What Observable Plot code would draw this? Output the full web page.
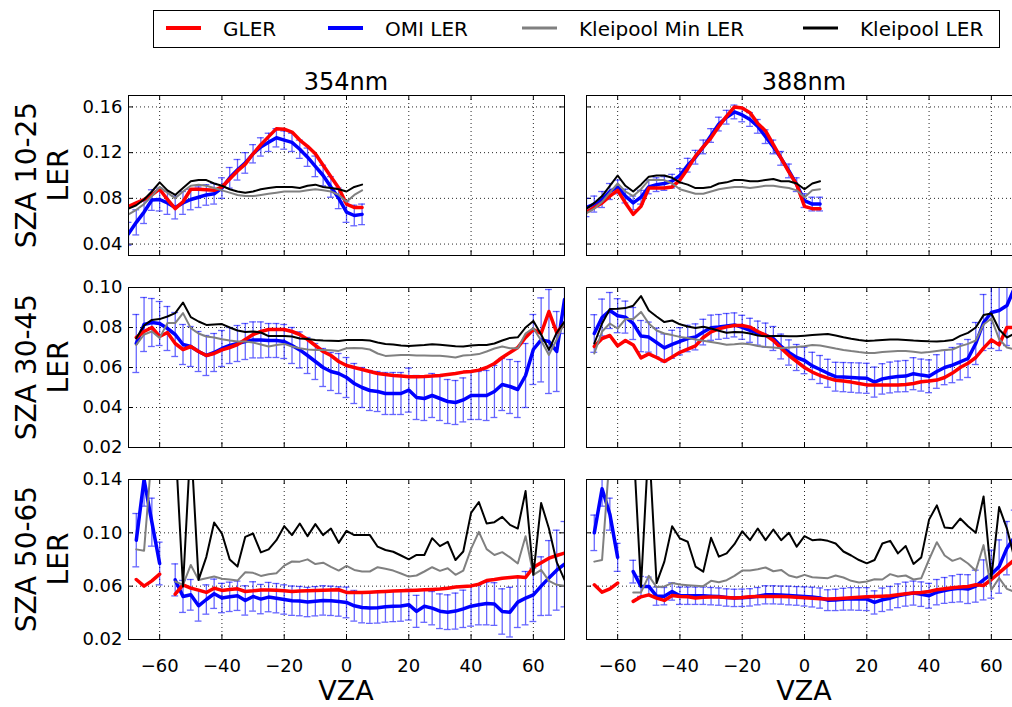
<!DOCTYPE html>
<html><head><meta charset="utf-8">
<script src="https://cdn.jsdelivr.net/npm/d3@7"></script>
<script src="https://cdn.jsdelivr.net/npm/@observablehq/plot@0.6"></script>
<style>
body{margin:0;background:#fff;font-family:"DejaVu Sans",sans-serif;}
#fig{position:relative;width:1012px;height:707px;overflow:hidden;background:#fff;}
#fig svg{position:absolute;}
</style></head><body><div id="fig"></div>
<script>
// ---------- axes / labels ----------
const vza = [-70,-67.5,-65,-62.5,-60,-57.5,-55,-52.5,-50,-47.5,-45,-42.5,-40,-37.5,-35,-32.5,-30,-27.5,-25,-22.5,-20,-17.5,-15,-12.5,-10,-7.5,-5,-2.5,0,2.5,5,7.5,10,12.5,15,17.5,20,22.5,25,27.5,30,32.5,35,37.5,40,42.5,45,47.5,50,52.5,55,57.5,60,62.5,65,67.5,70];
const xTicks = [-60,-40,-20,0,20,40,60];
const colTitles = ["354nm","388nm"];
const rowLabels = ["SZA 10-25","SZA 30-45","SZA 50-65"];
const yLabel = "LER";
const xLabel = "VZA";
const yDomains = [[0.03,0.17],[0.02,0.10],[0.02,0.14]];
const yTicks = [[0.04,0.08,0.12,0.16],[0.02,0.04,0.06,0.08,0.10],[0.02,0.06,0.10,0.14]];
const seriesNames = ["GLER","OMI LER","Kleipool Min LER","Kleipool LER"];
const seriesColors = ["#ff0000","#0000ff","#808080","#000000"];

// ---------- SZA 10-25, 354nm ----------
const GLER_354_SZA10 = [0.073,0.076,0.079,0.083,0.088,0.079,0.071,0.077,0.088,0.088,0.0875,0.087,0.090,0.097,0.104,0.110,0.119,0.127,0.134,0.141,0.1405,0.138,0.131,0.1255,0.119,0.109,0.099,0.089,0.075,0.072,0.072];
const OMI_354_SZA10 = [0.049,0.059,0.068,0.0785,0.079,0.076,0.072,0.076,0.079,0.081,0.083,0.084,0.089,0.098,0.105,0.111,0.119,0.125,0.129,0.133,0.131,0.129,0.123,0.116,0.108,0.100,0.090,0.080,0.068,0.065,0.066];
const OMIERR_354_SZA10 = [0.010,0.011,0.010,0.009,0.010,0.010,0.010,0.010,0.009,0.009,0.009,0.009,0.009,0.009,0.009,0.009,0.008,0.008,0.008,0.008,0.008,0.008,0.008,0.008,0.009,0.009,0.009,0.009,0.009,0.009,0.009];
const KMIN_354_SZA10 = [0.066,0.070,0.075,0.082,0.090,0.085,0.080,0.086,0.091,0.092,0.091,0.089,0.087,0.085,0.083,0.082,0.082,0.083,0.084,0.085,0.086,0.086,0.086,0.087,0.088,0.087,0.086,0.083,0.077,0.083,0.087];
const KLER_354_SZA10 = [0.071,0.074,0.079,0.086,0.094,0.087,0.083,0.089,0.095,0.096,0.096,0.093,0.091,0.088,0.086,0.085,0.086,0.088,0.089,0.090,0.090,0.090,0.089,0.091,0.092,0.090,0.089,0.088,0.086,0.090,0.092];

// ---------- SZA 10-25, 388nm ----------
const GLER_388_SZA10 = [0.068,0.072,0.076,0.082,0.087,0.076,0.066,0.073,0.089,0.089,0.089,0.090,0.096,0.106,0.117,0.125,0.133,0.143,0.152,0.160,0.159,0.155,0.1455,0.139,0.127,0.115,0.103,0.092,0.073,0.071,0.071];
const OMI_388_SZA10 = [0.072,0.075,0.079,0.086,0.090,0.082,0.076,0.081,0.090,0.092,0.093,0.095,0.100,0.109,0.116,0.125,0.135,0.145,0.151,0.1556,0.153,0.149,0.143,0.134,0.125,0.115,0.104,0.092,0.078,0.075,0.075];
const OMIERR_388_SZA10 = [0.008,0.007,0.007,0.007,0.006,0.006,0.006,0.006,0.006,0.006,0.006,0.006,0.006,0.006,0.006,0.006,0.006,0.006,0.006,0.006,0.006,0.006,0.006,0.006,0.006,0.006,0.006,0.006,0.006,0.006,0.006];
const KMIN_388_SZA10 = [0.067,0.071,0.077,0.085,0.093,0.086,0.082,0.088,0.096,0.096,0.096,0.093,0.088,0.086,0.084,0.084,0.086,0.088,0.089,0.090,0.090,0.089,0.090,0.091,0.091,0.090,0.089,0.087,0.081,0.087,0.088];
const KLER_388_SZA10 = [0.071,0.076,0.082,0.091,0.100,0.091,0.086,0.092,0.099,0.100,0.100,0.098,0.094,0.092,0.089,0.089,0.090,0.093,0.094,0.096,0.096,0.095,0.095,0.096,0.097,0.095,0.095,0.093,0.088,0.093,0.095];

// ---------- SZA 30-45, 354nm ----------
const GLER_354_SZA30 = [null,0.075,0.078,0.080,0.0755,0.0775,0.072,0.069,0.0705,0.068,0.066,0.067,0.0688,0.070,0.0715,0.074,0.0765,0.078,0.079,0.079,0.079,0.078,0.0765,0.074,0.071,0.068,0.066,0.063,0.061,0.060,0.059,0.058,0.057,0.0565,0.056,0.0557,0.0554,0.0554,0.0555,0.0557,0.056,0.0565,0.057,0.0577,0.058,0.0587,0.060,0.062,0.065,0.0675,0.070,0.075,0.079,0.077,0.088,0.0774,0.082];
const OMI_354_SZA30 = [null,0.072,0.0815,0.0825,0.082,0.0795,0.0765,0.0715,0.0705,0.068,0.066,0.0675,0.0695,0.071,0.072,0.073,0.0738,0.0738,0.0735,0.0735,0.073,0.071,0.0688,0.066,0.063,0.060,0.058,0.057,0.055,0.052,0.050,0.0485,0.048,0.047,0.047,0.047,0.0487,0.045,0.0445,0.046,0.0445,0.043,0.0425,0.0438,0.046,0.046,0.046,0.048,0.0515,0.0505,0.049,0.056,0.069,0.0738,0.073,0.068,0.094];
const OMIERR_354_SZA30 = [null,0.0145,0.0135,0.012,0.011,0.011,0.011,0.010,0.010,0.010,0.010,0.0095,0.009,0.009,0.009,0.009,0.009,0.009,0.0085,0.0085,0.0085,0.009,0.009,0.009,0.009,0.0095,0.0095,0.010,0.010,0.010,0.010,0.010,0.010,0.0105,0.0105,0.0105,0.011,0.011,0.011,0.011,0.011,0.011,0.011,0.011,0.012,0.012,0.0125,0.013,0.013,0.0135,0.014,0.016,0.0175,0.021,0.026,0.020,0.017];
const KMIN_354_SZA30 = [null,0.0713,0.0765,0.078,0.0748,0.0822,0.0822,0.0872,0.0797,0.077,0.0755,0.075,0.0741,0.0735,0.073,0.073,0.0725,0.0715,0.0705,0.0712,0.0718,0.0705,0.0696,0.069,0.0688,0.0688,0.0686,0.0683,0.0696,0.0698,0.0696,0.069,0.067,0.0658,0.066,0.0662,0.0663,0.066,0.066,0.0659,0.0659,0.0655,0.065,0.066,0.0663,0.0667,0.068,0.0695,0.0705,0.0696,0.0696,0.077,0.0797,0.0735,0.0663,0.074,0.0825];
const KLER_354_SZA30 = [null,0.0746,0.081,0.0838,0.0842,0.0855,0.0872,0.0925,0.0852,0.083,0.0813,0.0815,0.0817,0.080,0.0785,0.0778,0.078,0.0775,0.0757,0.0758,0.0758,0.0755,0.0745,0.0742,0.0738,0.0735,0.0734,0.0733,0.0738,0.0738,0.0738,0.0735,0.0725,0.0718,0.0715,0.071,0.0708,0.071,0.0712,0.0716,0.0714,0.071,0.0706,0.0705,0.071,0.0713,0.0713,0.072,0.0735,0.0748,0.0751,0.080,0.0833,0.0765,0.0688,0.0774,0.083];

// ---------- SZA 30-45, 388nm ----------
const GLER_388_SZA30 = [null,0.0705,0.0745,0.076,0.0708,0.0735,0.0713,0.0648,0.0668,0.065,0.063,0.0653,0.0676,0.0692,0.0708,0.075,0.0778,0.0793,0.0803,0.081,0.081,0.0802,0.078,0.0762,0.0735,0.0696,0.066,0.063,0.060,0.0577,0.056,0.0547,0.0536,0.0532,0.0527,0.052,0.0513,0.0512,0.0512,0.0512,0.0513,0.0515,0.052,0.0529,0.0532,0.0537,0.055,0.0572,0.060,0.0621,0.065,0.0697,0.0738,0.0713,0.080,0.080,null];
const OMI_388_SZA30 = [null,0.077,0.085,0.0885,0.0859,0.0852,0.082,0.0757,0.0752,0.0725,0.0698,0.0716,0.0731,0.0745,0.0753,0.0777,0.0799,0.0803,0.0808,0.0813,0.0801,0.0786,0.0772,0.0762,0.0745,0.0705,0.0675,0.065,0.0635,0.0608,0.059,0.0571,0.0554,0.0552,0.055,0.0548,0.0546,0.0527,0.0543,0.055,0.0555,0.0557,0.0569,0.0562,0.0556,0.058,0.060,0.0612,0.0628,0.0645,0.072,0.0825,0.0875,0.0885,0.091,0.100,null];
const OMIERR_388_SZA30 = [null,0.0094,0.0092,0.009,0.0085,0.008,0.008,0.0078,0.0075,0.0072,0.007,0.007,0.0068,0.0066,0.0065,0.0064,0.0063,0.0062,0.0062,0.006,0.006,0.006,0.006,0.006,0.006,0.0062,0.0063,0.0065,0.0066,0.0068,0.007,0.007,0.0072,0.0073,0.0074,0.0075,0.0075,0.0075,0.0076,0.0077,0.0077,0.0078,0.008,0.008,0.0082,0.0084,0.0086,0.0088,0.009,0.0095,0.0105,0.014,0.018,0.020,0.020,0.020,null];
const KMIN_388_SZA30 = [null,0.067,0.078,0.082,0.0795,0.0842,0.0842,0.0878,0.082,0.0785,0.077,0.0762,0.0753,0.0748,0.074,0.0734,0.0728,0.0721,0.0714,0.0716,0.072,0.0716,0.0708,0.0703,0.070,0.0696,0.070,0.0703,0.0706,0.0712,0.071,0.0703,0.0695,0.0688,0.0682,0.0677,0.0673,0.0673,0.0677,0.068,0.0682,0.0683,0.0679,0.0674,0.0678,0.0683,0.0687,0.069,0.0707,0.0718,0.0735,0.0815,0.0845,0.0742,0.070,0.069,null];
const KLER_388_SZA30 = [null,0.072,0.082,0.0892,0.0894,0.0897,0.0909,0.0957,0.0885,0.0855,0.0827,0.0835,0.0816,0.0805,0.0798,0.0804,0.0795,0.0784,0.0774,0.0777,0.0776,0.077,0.076,0.0756,0.0758,0.0757,0.0756,0.0756,0.0759,0.0762,0.0765,0.0767,0.076,0.0751,0.0744,0.0738,0.0733,0.0735,0.0738,0.074,0.074,0.0738,0.0735,0.0733,0.0731,0.073,0.0733,0.0737,0.0758,0.0773,0.080,0.0862,0.087,0.079,0.075,0.077,null];

// ---------- SZA 50-65, 354nm ----------
const GLER_354_SZA50 = [null,0.065,0.060,0.064,0.069,null,0.054,0.061,0.0585,0.057,0.0553,0.0585,0.0568,0.0575,0.058,0.056,0.0565,0.0572,0.0572,0.057,0.0566,0.056,0.0563,0.0566,0.0568,0.057,0.0572,0.0573,0.0553,0.0553,0.0553,0.0555,0.0558,0.056,0.0563,0.0565,0.0568,0.057,0.0573,0.0575,0.0578,0.0585,0.0593,0.0598,0.0602,0.0615,0.0642,0.065,0.066,0.0665,0.067,0.0665,0.0742,0.0775,0.081,0.083,0.0848];
const OMI_354_SZA50 = [null,0.0945,0.140,0.108,0.077,null,0.0647,0.0523,0.0535,0.0453,0.050,0.0543,0.0511,0.052,0.0528,0.0493,0.0523,0.0503,0.0518,0.051,0.050,0.0491,0.0488,0.0481,0.0487,0.0493,0.049,0.0485,0.0478,0.0453,0.044,0.0436,0.0438,0.0445,0.0449,0.0452,0.0461,0.0411,0.0449,0.0435,0.0412,0.0405,0.0413,0.043,0.045,0.046,0.047,0.0466,0.041,0.0405,0.048,0.051,0.0535,0.060,0.0662,0.072,0.0765];
const OMIERR_354_SZA50 = [null,0.020,0.020,0.018,0.016,null,0.012,0.012,0.0115,0.0115,0.011,0.011,0.011,0.011,0.011,0.011,0.011,0.011,0.011,0.011,0.011,0.011,0.011,0.011,0.011,0.011,0.011,0.011,0.0115,0.0115,0.0115,0.0115,0.0115,0.0115,0.0115,0.0115,0.0115,0.012,0.012,0.0125,0.013,0.013,0.0135,0.014,0.015,0.015,0.016,0.016,0.017,0.0186,0.019,0.020,0.020,0.022,0.028,0.030,0.032];
const KMIN_354_SZA50 = [null,0.0876,0.0866,0.160,null,null,0.0635,0.061,0.0759,0.0647,0.066,0.0672,0.0655,0.065,0.0642,0.0704,0.070,0.0677,0.069,0.0697,0.0754,0.0785,0.0784,0.0801,0.0766,0.0776,0.0745,0.0717,0.0752,0.0722,0.071,0.071,0.0742,0.073,0.0717,0.0695,0.0672,0.068,0.071,0.0742,0.0715,0.0734,0.0685,0.0717,0.088,0.1007,0.0878,0.0834,0.0855,0.0816,0.077,0.0975,0.0685,0.0722,0.064,0.061,0.0603];
const KLER_354_SZA50 = [null,null,null,null,null,null,0.170,0.0598,0.170,0.0647,0.082,0.1077,0.0995,0.080,0.0747,0.097,0.0995,0.0853,0.0876,0.0945,0.105,0.0983,0.107,0.0975,0.1065,0.0983,0.1032,0.0925,0.1015,0.0983,0.0983,0.0983,0.0896,0.0871,0.0858,0.083,0.0801,0.0834,0.0834,0.096,0.090,0.0933,0.0796,0.086,0.115,0.1231,0.107,0.108,0.112,0.106,0.1032,0.1313,0.0685,0.1224,0.1032,0.078,0.0647];

// ---------- SZA 50-65, 388nm ----------
const GLER_388_SZA50 = [null,0.061,0.0555,0.058,0.0623,null,0.0486,0.052,0.0535,0.051,0.0493,0.053,0.0523,0.052,0.0511,0.0516,0.0518,0.0518,0.0515,0.0512,0.0515,0.052,0.0523,0.0523,0.0523,0.0523,0.052,0.0516,0.0513,0.051,0.0506,0.0503,0.0506,0.051,0.0513,0.0516,0.052,0.0523,0.0525,0.0528,0.0535,0.0543,0.0548,0.0553,0.056,0.0573,0.058,0.0588,0.0593,0.0598,0.061,0.0605,0.065,0.070,0.075,0.080,null];
const OMI_388_SZA50 = [null,0.100,0.133,0.114,0.0816,null,0.0709,0.0598,0.0598,0.0525,0.0525,0.056,0.0528,0.0528,0.0528,0.0528,0.0525,0.0522,0.0515,0.0512,0.0513,0.0516,0.0525,0.0535,0.0535,0.0533,0.053,0.0527,0.0523,0.0518,0.0511,0.0495,0.0497,0.0502,0.0505,0.0504,0.0503,0.0478,0.0498,0.051,0.0528,0.054,0.0548,0.054,0.0528,0.0555,0.0568,0.0578,0.0585,0.0578,0.060,0.0647,0.069,0.0747,0.0885,0.097,null];
const OMIERR_388_SZA50 = [null,0.0133,0.013,0.012,0.0105,null,0.0085,0.0075,0.007,0.0068,0.0065,0.0065,0.0065,0.0065,0.0065,0.0065,0.0065,0.0065,0.0065,0.0065,0.0065,0.0065,0.0065,0.0068,0.0068,0.0068,0.007,0.007,0.0072,0.0074,0.0076,0.0078,0.008,0.0082,0.0084,0.0085,0.0086,0.0087,0.0088,0.0088,0.0089,0.009,0.009,0.0092,0.0093,0.0095,0.0097,0.010,0.0103,0.0108,0.012,0.015,0.018,0.020,0.020,0.020,null];
const KMIN_388_SZA50 = [null,0.0784,0.0796,0.160,null,null,0.0553,0.0553,0.0677,0.0593,0.0598,0.0623,0.0612,0.0607,0.0603,0.060,0.064,0.063,0.0645,0.0677,0.0717,0.0718,0.0727,0.074,0.0712,0.0722,0.068,0.0665,0.0685,0.0667,0.0664,0.066,0.068,0.0665,0.064,0.0628,0.0635,0.0652,0.065,0.069,0.0672,0.068,0.065,0.066,0.080,0.093,0.083,0.079,0.081,0.077,0.0715,0.0908,0.0573,0.066,0.058,0.0556,null];
const KLER_388_SZA50 = [null,null,null,null,null,null,0.170,0.0598,0.170,0.0623,0.0784,0.105,0.0958,0.0933,0.0747,0.0709,0.0963,0.0821,0.0846,0.0915,0.1012,0.0945,0.1032,0.0945,0.1025,0.0945,0.100,0.0896,0.0975,0.0945,0.095,0.094,0.092,0.086,0.083,0.0796,0.0771,0.0796,0.092,0.094,0.0846,0.0901,0.0767,0.0816,0.1099,0.1206,0.104,0.1035,0.1107,0.105,0.100,0.1273,0.066,0.1194,0.1032,0.080,null];

const panels = [
  [[GLER_354_SZA10,OMI_354_SZA10,OMIERR_354_SZA10,KMIN_354_SZA10,KLER_354_SZA10],
   [GLER_388_SZA10,OMI_388_SZA10,OMIERR_388_SZA10,KMIN_388_SZA10,KLER_388_SZA10]],
  [[GLER_354_SZA30,OMI_354_SZA30,OMIERR_354_SZA30,KMIN_354_SZA30,KLER_354_SZA30],
   [GLER_388_SZA30,OMI_388_SZA30,OMIERR_388_SZA30,KMIN_388_SZA30,KLER_388_SZA30]],
  [[GLER_354_SZA50,OMI_354_SZA50,OMIERR_354_SZA50,KMIN_354_SZA50,KLER_354_SZA50],
   [GLER_388_SZA50,OMI_388_SZA50,OMIERR_388_SZA50,KMIN_388_SZA50,KLER_388_SZA50]]
];

// ---------- layout ----------
const frameLeft = [128, 586];
const frameTop = [95, 287, 479];
const frameW = 436, frameH = 160;
const fig = document.getElementById("fig");
const v = a => (a === undefined || a === null) ? null : a;

function makePanel(r, c) {
  const [G, O, E, KM, KL] = panels[r][c];
  const data = vza.map((x, i) => ({x, g: v(G[i]), o: v(O[i]), e: v(E[i]), km: v(KM[i]), kl: v(KL[i])}));
  const errs = data.filter(d => d.o !== null && d.e !== null);
  const left = c === 0, bottom = r === 2;
  const mL = left ? 70 : 2, mR = 2, mT = 12, mB = bottom ? 40 : 12;
  const capW = 1.1;
  const chart = Plot.plot({
    width: frameW + mL + mR, height: frameH + mT + mB,
    marginLeft: mL, marginRight: mR, marginTop: mT, marginBottom: mB,
    style: {fontFamily: "DejaVu Sans, sans-serif", fontSize: "18px", background: "transparent", color: "#000"},
    x: {domain: [-70, 70], ticks: xTicks, axis: bottom ? "bottom" : null, tickSize: 0, tickPadding: 20, label: null},
    y: {domain: yDomains[r], ticks: yTicks[r], axis: left ? "left" : null, tickSize: 0, tickPadding: 6, tickFormat: d3.format(".2f"), label: null},
    marks: [
      Plot.ruleX(xTicks, {x: d => d, stroke: "#000", strokeWidth: 1, strokeDasharray: "1,3", strokeOpacity: 0.85}),
      Plot.ruleY(yTicks[r], {y: d => d, stroke: "#000", strokeWidth: 1, strokeDasharray: "1,3", strokeOpacity: 0.85}),
      Plot.tickX(xTicks, {x: d => d, insetTop: frameH - 5, stroke: "#000"}),
      Plot.tickX(xTicks, {x: d => d, insetBottom: frameH - 5, stroke: "#000"}),
      Plot.tickY(yTicks[r], {y: d => d, insetRight: frameW - 5, stroke: "#000"}),
      Plot.tickY(yTicks[r], {y: d => d, insetLeft: frameW - 5, stroke: "#000"}),
      Plot.ruleX(errs, {x: "x", y1: d => d.o - d.e, y2: d => d.o + d.e, stroke: seriesColors[1], strokeOpacity: 0.6, strokeWidth: 1.3, clip: true}),
      Plot.ruleY(errs, {y: d => d.o - d.e, x1: d => d.x - capW, x2: d => d.x + capW, stroke: seriesColors[1], strokeOpacity: 0.6, strokeWidth: 1.3, clip: true}),
      Plot.ruleY(errs, {y: d => d.o + d.e, x1: d => d.x - capW, x2: d => d.x + capW, stroke: seriesColors[1], strokeOpacity: 0.6, strokeWidth: 1.3, clip: true}),
      Plot.line(data, {x: "x", y: "o", stroke: seriesColors[1], strokeWidth: 3.5, clip: true}),
      Plot.line(data, {x: "x", y: "g", stroke: seriesColors[0], strokeWidth: 3.5, clip: true}),
      Plot.line(data, {x: "x", y: "km", stroke: seriesColors[2], strokeWidth: 2, clip: true}),
      Plot.line(data, {x: "x", y: "kl", stroke: seriesColors[3], strokeWidth: 2, clip: true}),
      Plot.frame({stroke: "#000", strokeWidth: 1})
    ]
  });
  chart.style.left = (frameLeft[c] - mL) + "px";
  chart.style.top = (frameTop[r] - mT) + "px";
  chart.style.maxWidth = "none";
  fig.appendChild(chart);
}
for (let r = 0; r < 3; r++) for (let c = 0; c < 2; c++) makePanel(r, c);

// ---------- overlay text & legend ----------
const ns = "http://www.w3.org/2000/svg";
const ov = document.createElementNS(ns, "svg");
ov.setAttribute("width", 1012); ov.setAttribute("height", 707);
ov.style.left = "0px"; ov.style.top = "0px";
ov.setAttribute("font-family", "DejaVu Sans, sans-serif");
fig.appendChild(ov);
function txt(s, x, y, size, anchor, rot) {
  const t = document.createElementNS(ns, "text");
  t.textContent = s;
  t.setAttribute("font-size", size);
  t.setAttribute("text-anchor", anchor || "start");
  t.setAttribute("fill", "#000");
  if (rot) t.setAttribute("transform", `translate(${x},${y}) rotate(-90)`);
  else { t.setAttribute("x", x); t.setAttribute("y", y); }
  ov.appendChild(t);
}
colTitles.forEach((s, c) => txt(s, frameLeft[c] + frameW / 2, 90, 24, "middle"));
rowLabels.forEach((s, r) => {
  const cy = frameTop[r] + frameH / 2;
  txt(s, 36, cy, 28, "middle", true);
  txt(yLabel, 68, cy, 28, "middle", true);
});
colTitles.forEach((s, c) => txt(xLabel, frameLeft[c] + frameW / 2, 700, 27, "middle"));

// legend
const box = document.createElementNS(ns, "rect");
box.setAttribute("x", 153.5); box.setAttribute("y", 10.5);
box.setAttribute("width", 846); box.setAttribute("height", 37);
box.setAttribute("fill", "#fff"); box.setAttribute("stroke", "#000");
ov.appendChild(box);
const legX = [166, 328, 522, 803];
const legW = [4, 4, 3, 3];
seriesNames.forEach((s, i) => {
  const l = document.createElementNS(ns, "line");
  l.setAttribute("x1", legX[i]); l.setAttribute("x2", legX[i] + 35);
  l.setAttribute("y1", 28); l.setAttribute("y2", 28);
  l.setAttribute("stroke", seriesColors[i]); l.setAttribute("stroke-width", legW[i]);
  ov.appendChild(l);
  txt(s, legX[i] + 57, 35.5, 20, "start");
});
</script></body></html>
